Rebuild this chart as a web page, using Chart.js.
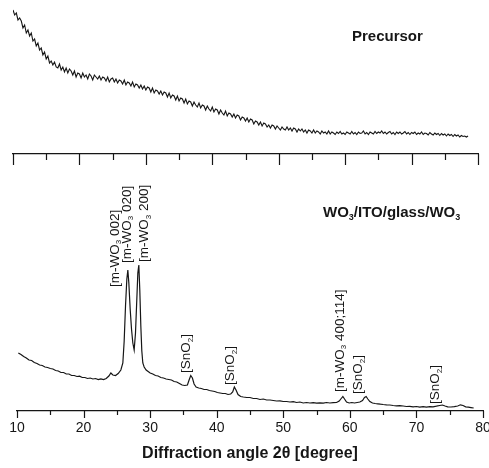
<!DOCTYPE html>
<html><head><meta charset="utf-8">
<script src="https://cdn.jsdelivr.net/npm/chart.js@4/dist/chart.umd.min.js"></script>
<style>
html,body{margin:0;padding:0;background:#fff;}
#wrap{position:relative;width:489px;height:468px;overflow:hidden;}
canvas{position:absolute;left:0;top:0;}
</style></head><body>
<div id="wrap"><canvas id="top" width="489" height="468"></canvas><canvas id="bot" width="489" height="468"></canvas></div>
<script>
// ---- data (arbitrary intensity units) ----
const precursorStart = 10, precursorStep = 0.25;
const precursorIntensity = [
144,139,141,134,136,133,126,129,121,124,118,121,113,115,108,111,104,106,99,102,
95,98,91,93,89,92,87,86,90,84,87,82,86,81,85,83,79,83,77,81,
80,76,81,77,79,75,80,78,74,79,77,75,78,74,77,76,73,77,72,75,
76,72,75,71,74,73,70,74,69,72,71,68,72,67,70,69,66,69,65,68,
64,67,66,62,66,61,64,63,60,63,59,62,61,57,61,56,59,58,54,58,
53,56,55,51,55,50,53,52,48,52,49,47,51,46,49,48,44,48,45,43,
47,42,45,44,40,44,41,39,43,38,41,40,37,40,36,39,38,34,37,36,
33,36,32,35,34,30,33,32,29,32,28,31,30,27,29,26,29,28,25,28,
26,24,27,25,24,27,24,26,23,26,25,22,25,23,25,22,24,21,24,23,
21,24,21,23,22,20,23,21,22,20,23,20,22,21,19.5,22,20.5,22.5,20,21,
19.5,22,21,20,22.5,20,21.5,19.5,22,20.5,21,23,20,21.5,19.5,22,21,20,22.5,20.5,
22,21,23,20.5,22,20,21.5,22.5,20,21.5,19.5,22,20.5,22,20,21,22.5,20,21.5,19.5,
21.5,20.5,22,19.5,21,20,22,19.5,21,20.5,19,21.5,20,19,21,19.5,20.5,18.5,20.5,19,
20,18,20,18.5,19.5,17.5,19.5,18,19,17,18.5,17.5,18,17,18
];
const filmAngle = [
10.2,10.6,11.0,11.4,11.8,12.2,12.6,13.0,13.4,13.8,14.2,14.6,15.0,15.4,15.8,16.2,16.6,17.0,17.4,17.8,
18.2,18.6,19.0,19.4,19.8,20.2,20.6,21.0,21.4,21.8,22.2,22.6,23.0,23.4,23.8,24.1,24.4,24.8,25.2,25.6,
25.9,26.1,26.3,26.5,26.65,26.8,27.0,27.2,27.4,27.6,27.8,28.0,28.15,28.3,28.45,28.6,28.75,28.9,29.1,29.4,
29.7,30.0,30.4,30.8,31.2,31.6,32.0,32.4,32.8,33.2,33.6,34.0,34.4,34.8,35.2,35.6,35.85,36.1,36.35,36.6,
36.9,37.3,37.7,38.1,38.5,38.9,39.3,39.7,40.1,40.5,40.9,41.3,41.7,42.1,42.4,42.65,42.9,43.2,43.6,44.0,
44.5,45.0,45.5,46.0,46.5,47.0,47.5,48.0,48.5,49.0,49.5,50.0,50.5,51.0,51.5,52.0,52.5,53.0,53.5,54.0,
54.5,55.0,55.5,56.0,56.5,57.0,57.5,58.0,58.4,58.7,58.95,59.2,59.5,59.9,60.3,60.7,61.1,61.5,61.9,62.2,
62.45,62.7,63.0,63.4,63.8,64.2,64.6,65.0,65.5,66.0,66.5,67.0,67.5,68.0,68.5,69.0,69.5,70.0,70.5,71.0,
71.5,72.0,72.5,73.0,73.5,73.9,74.3,74.7,75.2,75.7,76.2,76.6,77.0,77.4,77.8,78.2,78.6
];
const filmIntensity = [
58,56.5,54.5,53,51,50.5,48.5,47.5,46,45.5,44,43.5,42.5,42,40.5,40,38.5,38.5,37,37,
35.5,35.5,34.5,34.8,33.5,33.5,32.5,33,32,32.5,31.5,32.2,31.5,32.5,35,38,36,35.5,37.5,41,
48,70,105,132,141,128,102,82,68,61,78,112,138,146,120,85,60,48,44,41,
39.5,38,37,35.5,35,33.5,33,32,31.5,31,29.5,29,27.5,26,25.5,26,31,35.5,33,27,
24,23,22.5,21.5,21.5,20.5,20,19.5,18.5,18,17.5,17.5,16.5,17,19,24,21,16.5,14.5,14,
13.5,13.5,12.5,12.5,11.5,12,11,11,10.5,10,10.2,9.5,9.5,9,9.3,8.5,9,8,8.5,8,
8.3,7.8,8.2,7.8,8.5,8,8.4,8.5,10,12.5,14.5,12,9,8,8.5,8,8.5,9,10.5,13.5,
14.5,12,9.5,8,7.5,7.2,6.8,6.5,6.2,6,5.5,5.2,5.4,5,4.5,4.6,4.2,4.5,3.9,4.3,
3.8,4.4,4.2,4.8,5.5,6,5,4.2,4,4.3,5,6.2,5.5,4.2,3.8,3.4,3
];
const majorTicks = [10,20,30,40,50,60,70,80];
const minorTicks = [15,25,35,45,55,65,75];
const peakLabelText = [
  ['[m-WO','_3',' 002]'], ['[m-WO','_3',' 020]'], ['[m-WO','_3',' 200]'],
  ['[SnO','_2',']'], ['[SnO','_2',']'], ['[m-WO','_3',' 400;114]'],
  ['[SnO','_2',']'], ['[SnO','_2',']']
];
const peakLabelAngle = [24.7, 26.5, 29.1, 35.4, 42.1, 58.5, 61.3, 72.8];
const peakLabelBase  = [124, 148, 149, 38, 26, 19, 17, 7];
const topPanelLabel = ['Precursor'];
const bottomPanelLabel = ['WO','_3','/ITO/glass/WO','_3'];
const xTitle = 'Diffraction angle 2\u03B8 [degree]';

// ---- helpers ----
const FAM = '"Liberation Sans", Arial, sans-serif';
const INK = '#161616';
function drawRich(ctx, segs, x, y, size, weight) {
  let cx = x;
  segs.forEach(s => {
    const sub = s.startsWith('_');
    const t = sub ? s.slice(1) : s;
    const fs = sub ? Math.round(size * 0.62) : size;
    ctx.font = `${weight} ${fs}px ${FAM}`;
    ctx.fillText(t, cx, y + (sub ? size * 0.32 : 0));
    cx += ctx.measureText(t).width;
  });
}
const tickPlugin = {
  id: 'ticks5',
  afterDraw(chart, args, opts) {
    const sx = chart.scales.x, ctx = chart.ctx, y0 = chart.chartArea.bottom;
    ctx.save(); ctx.strokeStyle = INK; ctx.lineWidth = 1.2;
    ctx.beginPath();
    majorTicks.forEach(v => { const px = Math.round(sx.getPixelForValue(v)) + 0.5; ctx.moveTo(px, y0); ctx.lineTo(px, y0 + opts.major); });
    minorTicks.forEach(v => { const px = Math.round(sx.getPixelForValue(v)) + 0.5; ctx.moveTo(px, y0); ctx.lineTo(px, y0 + opts.minor); });
    ctx.stroke(); ctx.restore();
  }
};
const topLabelPlugin = {
  id: 'toplabel',
  afterDraw(chart) {
    const ctx = chart.ctx; ctx.save(); ctx.fillStyle = INK; ctx.textBaseline = 'middle';
    drawRich(ctx, topPanelLabel, 352, 37, 15, 'bold');
    ctx.restore();
  }
};
const peakLabelPlugin = {
  id: 'peaklabels',
  afterDraw(chart) {
    const ctx = chart.ctx, sx = chart.scales.x, sy = chart.scales.y;
    ctx.save(); ctx.fillStyle = INK; ctx.textBaseline = 'middle';
    peakLabelText.forEach((segs, i) => {
      ctx.save();
      ctx.translate(sx.getPixelForValue(peakLabelAngle[i]), sy.getPixelForValue(peakLabelBase[i]));
      ctx.rotate(-Math.PI / 2);
      drawRich(ctx, segs, 0, 0, 13.5, 'normal');
      ctx.restore();
    });
    drawRich(ctx, bottomPanelLabel, 323, 213, 15, 'bold');
    ctx.restore();
  }
};

// ---- top panel ----
const precursorPoints = precursorIntensity.map((v, i) => ({x: precursorStart + i * precursorStep, y: v}));
new Chart(document.getElementById('top'), {
  type: 'line',
  data: {datasets: [{data: precursorPoints, borderColor: INK, borderWidth: 1.1, pointRadius: 0, tension: 0, fill: false}]},
  options: {
    responsive: false, animation: false, events: [],
    layout: {padding: {left: 13, right: 11, top: 4, bottom: 0}},
    plugins: {legend: {display: false}, tooltip: {enabled: false}, ticks5: {major: 11, minor: 6}},
    scales: {
      x: {type: 'linear', min: 10, max: 80,
          grid: {display: false, drawTicks: false},
          border: {display: true, color: INK, width: 1.2},
          ticks: {display: false},
          afterFit(s) { s.height = 314; s.paddingLeft = 0; s.paddingRight = 0; }},
      y: {display: false, min: 0, max: 150}
    }
  },
  plugins: [tickPlugin, topLabelPlugin]
});

// ---- bottom panel ----
const filmPoints = filmAngle.map((a, i) => ({x: a, y: filmIntensity[i]}));
new Chart(document.getElementById('bot'), {
  type: 'line',
  data: {datasets: [{data: filmPoints, borderColor: INK, borderWidth: 1.2, pointRadius: 0, tension: 0, fill: false}]},
  options: {
    responsive: false, animation: false, events: [],
    layout: {padding: {left: 17, right: 6, top: 211, bottom: 0}},
    plugins: {legend: {display: false}, tooltip: {enabled: false}, ticks5: {major: 7, minor: 4}},
    scales: {
      x: {type: 'linear', min: 10, max: 80,
          grid: {display: false, drawTicks: false},
          border: {display: true, color: INK, width: 1.2},
          ticks: {stepSize: 10, autoSkip: false, maxRotation: 0, padding: 9, color: INK,
                  font: {size: 14, family: FAM}},
          title: {display: true, text: xTitle, color: INK, padding: {top: 0, bottom: 5},
                  font: {size: 16, weight: 'bold', family: FAM}},
          afterFit(s) { s.height = 57; s.paddingLeft = 0; s.paddingRight = 0; }},
      y: {display: false, min: 0, max: 200}
    }
  },
  plugins: [tickPlugin, peakLabelPlugin]
});
</script>
</body></html>
